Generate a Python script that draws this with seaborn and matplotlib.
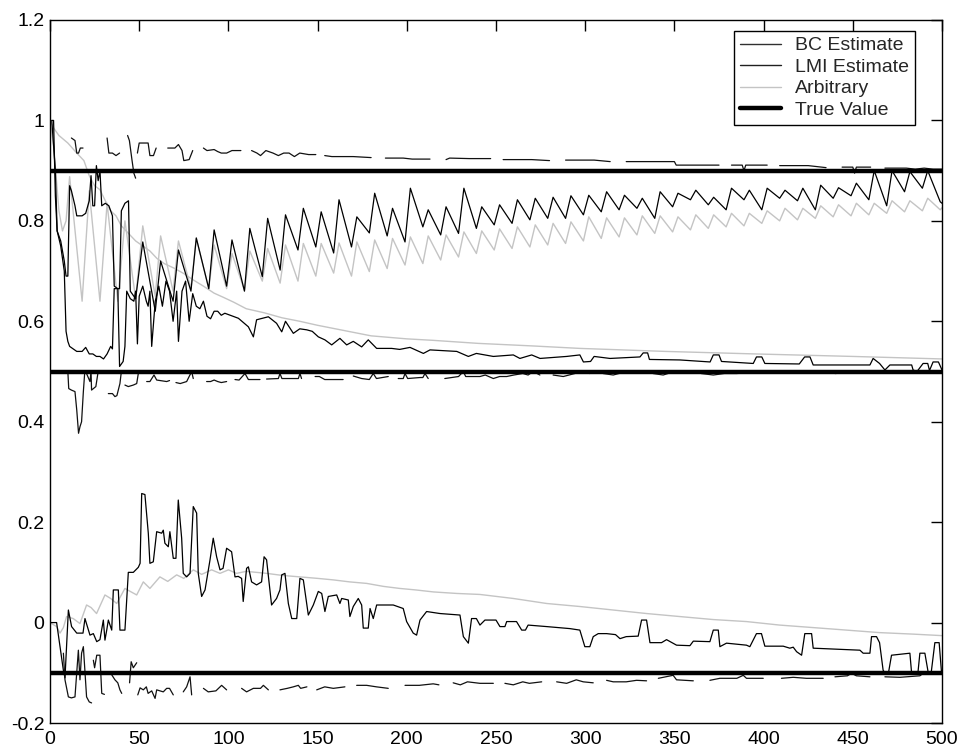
import matplotlib
matplotlib.use("Agg")
import matplotlib.pyplot as plt
import seaborn as sns
import pandas as pd
from matplotlib.lines import Line2D

# ---------------- data ----------------
legend_labels = ["BC Estimate", "LMI Estimate", "Arbitrary", "True Value"]
true_values = [0.9, 0.5, -0.1]
x_ticks = [0, 50, 100, 150, 200, 250, 300, 350, 400, 450, 500]
y_ticks = [-0.2, 0.0, 0.2, 0.4, 0.6, 0.8, 1.0, 1.2]
y_tick_labels = ["-0.2", "0", "0.2", "0.4", "0.6", "0.8", "1", "1.2"]

# oscillating series of the 0.9 group: one peak and one trough per cycle
cycle_start = [50, 60, 70, 80, 90, 100, 110, 120, 130, 140, 150, 160, 170, 180, 190,
               200, 210, 220, 230, 240, 250, 260, 270, 280, 290, 300, 310, 320, 330, 340,
               350, 360, 370, 380, 390, 400, 410, 420, 430, 440, 450, 460, 470, 480, 490]
bc_hi_peaks = [0.758, 0.72, 0.742, 0.766, 0.782, 0.762, 0.785, 0.805, 0.812, 0.825,
               0.818, 0.842, 0.808, 0.855, 0.825, 0.865, 0.822, 0.828, 0.865, 0.828,
               0.832, 0.842, 0.845, 0.847, 0.85, 0.851, 0.858, 0.851, 0.845, 0.858,
               0.855, 0.861, 0.847, 0.865, 0.861, 0.865, 0.861, 0.865, 0.871, 0.866,
               0.875, 0.9, 0.9, 0.898, 0.9]
bc_hi_troughs = [0.62, 0.64, 0.66, 0.665, 0.67, 0.66, 0.689, 0.702, 0.742, 0.748,
                 0.736, 0.748, 0.776, 0.77, 0.758, 0.788, 0.772, 0.775, 0.785, 0.792,
                 0.795, 0.802, 0.805, 0.805, 0.812, 0.818, 0.822, 0.825, 0.805, 0.828,
                 0.842, 0.832, 0.822, 0.842, 0.822, 0.845, 0.84, 0.822, 0.845, 0.85,
                 0.842, 0.83, 0.858, 0.865, 0.838]
arb_hi_peaks = [0.79, 0.77, 0.76, 0.765, 0.752, 0.735, 0.74, 0.745, 0.752, 0.755,
                0.755, 0.756, 0.758, 0.762, 0.765, 0.768, 0.77, 0.772, 0.778, 0.78,
                0.784, 0.788, 0.792, 0.795, 0.798, 0.808, 0.806, 0.806, 0.81, 0.81,
                0.808, 0.812, 0.812, 0.815, 0.815, 0.82, 0.825, 0.825, 0.83, 0.832,
                0.835, 0.835, 0.84, 0.84, 0.845]
arb_hi_troughs = [0.65, 0.66, 0.665, 0.665, 0.665, 0.662, 0.68, 0.676, 0.68, 0.69,
                  0.696, 0.69, 0.699, 0.705, 0.712, 0.715, 0.722, 0.728, 0.735, 0.742,
                  0.745, 0.748, 0.752, 0.755, 0.76, 0.765, 0.768, 0.772, 0.775, 0.778,
                  0.782, 0.785, 0.788, 0.79, 0.795, 0.8, 0.802, 0.805, 0.808, 0.81,
                  0.812, 0.815, 0.818, 0.82, 0.822]
bc_hi_early = [(1, 1.0), (2, 1.0), (3, 0.85), (4, 0.78), (6, 0.76), (8, 0.72), (9, 0.69),
               (10, 0.69), (11, 0.87), (12, 0.86), (14, 0.83), (15, 0.81), (18, 0.81),
               (20, 0.815), (22, 0.84), (23, 0.89), (24, 0.83), (25, 0.83), (26, 0.91),
               (27, 0.88), (28, 0.9), (29, 0.83), (31, 0.835), (33, 0.83), (35, 0.81),
               (36, 0.67), (38, 0.665), (39, 0.665), (40, 0.82), (42, 0.835), (44, 0.84),
               (45, 0.66), (47, 0.65), (48, 0.645)]
bc_hi_end = (500, 0.835)
arb_hi_early = [(0, 1.0), (2, 0.95), (5, 0.82), (7, 0.78), (9, 0.8), (11, 0.888),
                (18, 0.64), (22, 0.86), (28, 0.64), (32, 0.835), (38, 0.64), (42, 0.80),
                (48, 0.645)]
arb_hi_end = (500, 0.826)

# 0.5 group
bc_mid = [(1, 1.0), (2, 0.95), (3, 0.9), (4, 0.78), (6, 0.75), (8, 0.7), (9, 0.58),
          (10, 0.56), (11, 0.55), (13, 0.545), (15, 0.54), (18, 0.54), (20, 0.548),
          (22, 0.535), (24, 0.535), (26, 0.53), (28, 0.53), (30, 0.525), (32, 0.535),
          (34, 0.55), (35, 0.545), (36, 0.665), (38, 0.665), (39, 0.51), (41, 0.52),
          (42, 0.55), (43, 0.66), (45, 0.645), (47, 0.64), (48, 0.66), (49, 0.555),
          (50, 0.65), (52, 0.67), (54, 0.64), (55, 0.63), (56, 0.66), (57, 0.55),
          (59, 0.64), (61, 0.67), (63, 0.63), (65, 0.68), (67, 0.66), (69, 0.6),
          (71, 0.66), (72, 0.56), (74, 0.66), (76, 0.68), (78, 0.6), (80, 0.655),
          (82, 0.63), (84, 0.625), (86, 0.64), (88, 0.61), (90, 0.605), (92, 0.62),
          (94, 0.62), (96, 0.612), (98, 0.616), (105.6, 0.606), (111.2, 0.589),
          (114, 0.569), (115.8, 0.603), (122.4, 0.609), (127, 0.596), (129.9, 0.579),
          (132, 0.6), (136.4, 0.576), (140, 0.585), (143.9, 0.583), (147, 0.58),
          (150.4, 0.569), (154.1, 0.563), (157.9, 0.553), (162.5, 0.566), (166.3, 0.553),
          (170, 0.56), (174.7, 0.549), (178.4, 0.563), (183.1, 0.546), (191.5, 0.546),
          (196, 0.544), (201.8, 0.548), (209.3, 0.536), (213, 0.543), (228, 0.54),
          (234.5, 0.53), (239, 0.536), (248.5, 0.53), (259.7, 0.533), (263.4, 0.526),
          (270, 0.533), (274.7, 0.526), (289.6, 0.53), (297, 0.533), (299, 0.519),
          (303, 0.52), (305, 0.53), (313.9, 0.526), (330.7, 0.529), (332.5, 0.537),
          (335, 0.537), (336, 0.524), (353, 0.523), (370, 0.519), (371.8, 0.533),
          (375, 0.533), (376.4, 0.52), (394.2, 0.516), (396, 0.529), (399, 0.529),
          (400.7, 0.516), (420, 0.515), (423, 0.529), (426, 0.529), (427.8, 0.513),
          (459.6, 0.513), (461.4, 0.526), (465, 0.516), (468, 0.503), (470.8, 0.513),
          (483, 0.513), (483.8, 0.503), (486, 0.5), (489.4, 0.516), (492, 0.516),
          (493, 0.502), (495, 0.519), (498, 0.519), (500, 0.503)]
arb_mid = [(0, 1.0), (2, 0.985), (5, 0.97), (10, 0.955), (15, 0.935), (19, 0.92),
           (22, 0.89), (25, 0.87), (28, 0.862), (31, 0.84), (34, 0.82), (37, 0.81),
           (40, 0.79), (44, 0.775), (48, 0.76), (52, 0.75), (56, 0.74), (60, 0.725),
           (64, 0.715), (70, 0.705), (75, 0.695), (80, 0.683), (86, 0.67), (92, 0.656),
           (97, 0.648), (103, 0.638), (110, 0.625), (120, 0.617), (130, 0.607),
           (140, 0.6), (150, 0.592), (160, 0.585), (170, 0.578), (180, 0.571),
           (190, 0.568), (200, 0.565), (215, 0.562), (240, 0.556), (270, 0.551),
           (297, 0.546), (345, 0.54), (395, 0.535), (450, 0.53), (500, 0.525)]

# -0.1 group
bc_low = [(0, 0.0), (3.7, 0.0), (5.6, -0.048), (7.5, -0.095), (8.4, -0.11), (10.3, 0.025),
          (12.1, -0.008), (15, -0.021), (18.5, -0.021), (19.6, 0.008), (22.4, -0.025),
          (24.3, -0.022), (26.2, -0.038), (28, -0.034), (29.9, 0.005), (30.8, -0.035),
          (31.8, -0.015), (32.7, 0.005), (34.6, -0.015), (35.5, 0.065), (38.3, 0.065),
          (39.2, -0.015), (42, -0.015), (43.9, 0.1), (46.7, 0.1), (49.5, 0.11),
          (50.5, 0.118), (51.4, 0.257), (53.2, 0.255), (55.1, 0.178), (56, 0.118),
          (57.9, 0.121), (59.8, 0.181), (62.6, 0.178), (63.5, 0.184), (64.4, 0.158),
          (66.3, 0.151), (67.2, 0.181), (69.1, 0.128), (70.6, 0.128), (71.9, 0.244),
          (73.8, 0.168), (74.7, 0.098), (76.6, 0.091), (78.5, 0.098), (80.3, 0.231),
          (82.2, 0.218), (83.1, 0.098), (85, 0.052), (86.9, 0.065), (89.7, 0.125),
          (91.5, 0.168), (93.4, 0.131), (95.3, 0.105), (97, 0.108), (99, 0.148),
          (101.8, 0.141), (103.7, 0.091), (105.5, 0.092), (107.4, 0.088), (108.3, 0.042),
          (110.2, 0.108), (111.2, 0.111), (113, 0.081), (115.8, 0.075), (118.6, 0.081),
          (120, 0.131), (121.4, 0.125), (124.2, 0.035), (127, 0.048), (128.9, 0.065),
          (129.9, 0.095), (131.7, 0.098), (133.6, 0.038), (135.5, 0.008), (138.3, 0.008),
          (140.1, 0.088), (142, 0.085), (144.8, 0.015), (147.6, 0.035), (150.4, 0.062),
          (152.3, 0.058), (154.1, 0.022), (156, 0.052), (160.7, 0.055), (162.5, 0.038),
          (163.5, 0.048), (167.2, 0.045), (168.1, 0.012), (170, 0.032), (172.8, 0.048),
          (174.7, 0.035), (175.6, -0.011), (178.4, -0.011), (179.4, 0.028), (181.2, 0.008),
          (183.1, 0.035), (192.4, 0.035), (198, 0.028), (199.9, 0.002), (203.6, -0.021),
          (205.5, -0.025), (207.4, 0.005), (211.1, 0.022), (218.6, 0.018), (229.8, 0.015),
          (231.7, -0.028), (234.5, -0.041), (236.3, 0.008), (239, 0.008), (241, -0.005),
          (243.8, 0.005), (250, 0.005), (252.2, -0.008), (255, -0.008), (256, 0.002),
          (261.5, 0.002), (264.4, -0.015), (266.5, -0.015), (268, -0.005), (278.4, -0.008),
          (291.4, -0.012), (297, -0.015), (299.8, -0.048), (302.6, -0.048), (304.5, -0.028),
          (307.3, -0.022), (312, -0.022), (317, -0.024), (319.5, -0.032), (323, -0.028),
          (329.7, -0.027), (331.6, 0.005), (334.4, 0.005), (336.3, -0.04), (342.8, -0.04),
          (345.6, -0.034), (351.2, -0.045), (358.7, -0.046), (360.6, -0.037),
          (369.9, -0.038), (371.8, -0.015), (374.6, -0.015), (375.5, -0.048),
          (379.2, -0.041), (390.4, -0.045), (392.3, -0.048), (396, -0.022), (398.8, -0.022),
          (400.7, -0.047), (411, -0.047), (414.7, -0.051), (416.6, -0.049), (418.5, -0.058),
          (421.3, -0.065), (423.1, -0.022), (426.9, -0.022), (427.8, -0.051), (454, -0.055),
          (455.8, -0.061), (459.6, -0.061), (460.5, -0.028), (463.3, -0.028), (465, -0.04),
          (467, -0.095), (468, -0.1), (470, -0.1), (471.7, -0.065), (482, -0.061),
          (482.9, -0.098), (486.5, -0.1), (487.6, -0.061), (490.4, -0.061), (492.2, -0.098),
          (494, -0.098), (496, -0.04), (498.4, -0.04), (499.7, -0.098)]
arb_low = [(0, 0.0), (3.7, -0.008), (5.6, -0.021), (7.5, -0.01), (9.3, 0.012), (13, 0.008),
           (16.8, -0.002), (20.5, 0.035), (23, 0.03), (26.1, 0.018), (30.8, 0.055),
           (34, 0.048), (37.4, 0.038), (42, 0.068), (45, 0.062), (48.6, 0.055),
           (52.3, 0.081), (56, 0.068), (61.6, 0.091), (66, 0.082), (71, 0.095), (75, 0.088),
           (80.3, 0.105), (85, 0.096), (90.6, 0.105), (95.3, 0.098), (100, 0.105),
           (104.6, 0.098), (110, 0.102), (121.4, 0.098), (130, 0.094), (140, 0.091),
           (150, 0.088), (158.8, 0.085), (168, 0.081), (177.5, 0.078), (187, 0.072),
           (196, 0.068), (205, 0.065), (215, 0.061), (228, 0.058), (241, 0.056),
           (259.7, 0.048), (278.4, 0.038), (297, 0.032), (315.7, 0.025), (334.4, 0.018),
           (353, 0.012), (371.8, 0.006), (390.4, 0.002), (409, -0.005), (427.8, -0.01),
           (446.5, -0.015), (465, -0.02), (483.8, -0.023), (500, -0.026)]

# LMI estimates: broken lines (one list of points per visible piece)
lmi_hi = [
    [(12, 0.965), (14, 0.96), (15, 0.935), (16, 0.935), (17, 0.945), (18.5, 0.945)],
    [(32, 0.965), (33, 0.935), (35, 0.935), (37, 0.93), (39, 0.935)],
    [(43.5, 0.97), (44.5, 0.96), (46, 0.92), (47, 0.895), (48, 0.885)],
    [(49, 0.935), (50, 0.955), (52, 0.955), (55, 0.955), (56, 0.93), (58, 0.93), (59.5, 0.945)],
    [(66, 0.945), (70, 0.945), (72, 0.952), (74, 0.94), (75, 0.92), (78, 0.922), (80, 0.94)],
    [(86, 0.945), (88, 0.94), (92, 0.942), (94, 0.938), (96, 0.935), (99, 0.935), (102, 0.94), (107, 0.94)],
    [(113, 0.94), (116, 0.935), (118, 0.93), (121, 0.94), (125, 0.935), (128, 0.93), (131, 0.935),
     (134, 0.935), (137, 0.928), (140, 0.935), (145, 0.932), (149, 0.932)],
    [(154, 0.93), (158, 0.928), (170, 0.928), (180, 0.926)],
    [(188, 0.925), (198, 0.925), (203, 0.923), (213, 0.923)],
    [(222, 0.922), (224, 0.925), (235, 0.924), (247, 0.924)],
    [(254, 0.922), (270, 0.922), (280, 0.92)],
    [(289, 0.921), (305, 0.921), (314, 0.918)],
    [(323, 0.918), (350, 0.918), (351, 0.911), (375, 0.911)],
    [(382, 0.911), (388, 0.911), (389, 0.9), (390, 0.911), (402, 0.911)],
    [(409, 0.91), (425, 0.91), (435, 0.906)],
    [(444, 0.907), (450, 0.907), (451, 0.895), (452, 0.907), (460, 0.907)],
    [(468, 0.905), (480, 0.905), (485, 0.903), (490, 0.905), (495, 0.903), (500, 0.903)],
]
lmi_mid = [
    [(10, 0.5), (10.5, 0.466), (12, 0.463), (14, 0.46), (15, 0.423), (16, 0.377), (16.8, 0.39),
     (17.7, 0.4), (18.7, 0.46), (19.5, 0.5)],
    [(20, 0.5), (22.4, 0.48), (23, 0.5), (23.3, 0.463), (25.7, 0.47), (27, 0.5)],
    [(32.7, 0.456), (35, 0.456), (36.4, 0.45), (37.5, 0.452), (39.2, 0.476), (40, 0.5)],
    [(42, 0.473), (43.9, 0.47), (46.7, 0.473), (48.6, 0.476), (49.5, 0.496)],
    [(54.2, 0.48), (56, 0.48), (58.3, 0.493), (59.8, 0.483), (65.4, 0.48), (67, 0.482)],
    [(70.6, 0.478), (73, 0.476), (76.6, 0.48), (79.4, 0.5), (80.3, 0.486)],
    [(87.8, 0.48), (90, 0.48), (92, 0.483), (94, 0.48), (96, 0.478), (99, 0.48)],
    [(103.7, 0.484), (106, 0.483), (109.3, 0.496), (111.2, 0.484), (117.7, 0.484)],
    [(121.4, 0.485), (128, 0.486), (128.9, 0.496), (130, 0.486), (139.2, 0.486), (140.1, 0.496), (141, 0.486)],
    [(148.6, 0.49), (151, 0.49), (154, 0.484), (164.3, 0.484)],
    [(170, 0.491), (174.7, 0.486), (179, 0.484), (181.2, 0.496), (183, 0.486), (189.6, 0.49)],
    [(195.2, 0.486), (198, 0.486), (199, 0.496), (200.5, 0.486), (207.4, 0.488), (209, 0.488),
     (210.2, 0.496), (212, 0.486)],
    [(221.3, 0.486), (229, 0.49), (231.7, 0.5), (233, 0.49), (241, 0.49), (244, 0.493), (248.5, 0.486),
     (252, 0.49), (256, 0.49), (260, 0.493), (265, 0.496), (268, 0.493), (270.9, 0.5), (274.6, 0.493)],
    [(282, 0.493), (287.7, 0.49), (294.2, 0.496), (297, 0.5), (302.6, 0.496)],
    [(310, 0.496), (315.7, 0.493), (321, 0.498), (334.4, 0.498)],
    [(338, 0.496), (343.7, 0.493), (350, 0.5), (360.6, 0.497)],
    [(365, 0.496), (371.8, 0.493), (378, 0.496), (384.8, 0.496), (394, 0.498), (400.7, 0.5)],
    [(411, 0.5), (418, 0.498), (426, 0.5), (433.4, 0.498)],
    [(440, 0.496), (448, 0.498), (457.7, 0.498)],
    [(468, 0.498), (480, 0.498), (491.3, 0.5), (500, 0.5)],
]
lmi_low = [
    [(7.5, -0.061), (8.4, -0.114), (10.3, -0.148), (12, -0.15), (14, -0.148), (15.9, -0.055),
     (16.8, -0.114), (17.7, -0.061), (18.7, -0.048), (20.5, -0.148), (22, -0.158), (23.3, -0.16)],
    [(24.3, -0.075), (25, -0.09), (26.2, -0.065), (28, -0.065), (29, -0.141), (30.5, -0.143)],
    [(34.6, -0.104), (36.4, -0.114), (38, -0.12), (39.2, -0.134), (40.2, -0.141)],
    [(44.6, -0.12), (45.5, -0.078), (46.7, -0.09), (48.6, -0.08)],
    [(49.2, -0.144), (50.5, -0.13), (52.3, -0.134), (54, -0.128), (55, -0.141), (57, -0.136),
     (58.9, -0.151), (59.8, -0.134), (63.5, -0.138), (65.4, -0.131), (67, -0.131), (69.1, -0.144)],
    [(74.7, -0.138), (76.6, -0.128), (78.5, -0.108), (79.4, -0.144)],
    [(86, -0.131), (88.7, -0.138), (93, -0.136), (96.2, -0.125), (99, -0.134)],
    [(107.4, -0.131), (110.2, -0.138), (114, -0.131), (118, -0.131), (119.6, -0.125), (122.4, -0.134)],
    [(128.9, -0.134), (133, -0.131), (136.4, -0.128), (139.2, -0.125), (140.5, -0.131), (144, -0.128)],
    [(149.5, -0.134), (154, -0.128), (158.8, -0.131), (165.3, -0.128)],
    [(171.9, -0.125), (177.5, -0.125), (183, -0.128), (189.6, -0.131)],
    [(199, -0.125), (207, -0.125), (214.8, -0.122), (218, -0.124)],
    [(226, -0.12), (230, -0.124), (234, -0.118), (241, -0.121), (248.5, -0.121)],
    [(255, -0.121), (259.7, -0.124), (265, -0.118), (268.7, -0.121), (275.6, -0.118)],
    [(284, -0.118), (289.6, -0.121), (295, -0.114), (298.9, -0.118), (304.5, -0.12)],
    [(312, -0.115), (315.7, -0.118), (323, -0.118), (328.8, -0.115), (334.4, -0.116)],
    [(341, -0.111), (349.3, -0.105), (351.2, -0.114), (360.6, -0.116)],
    [(369.9, -0.115), (375.5, -0.111), (385, -0.111), (388.6, -0.105), (390.4, -0.111), (399.8, -0.111)],
    [(410, -0.111), (416.6, -0.109), (424, -0.111), (433.4, -0.111)],
    [(440, -0.108), (447, -0.106), (449.3, -0.101), (452, -0.106), (459.6, -0.108)],
    [(468, -0.108), (476.4, -0.109), (487.6, -0.106), (489.5, -0.101), (495, -0.101), (499.7, -0.102)],
]

# ---------------- assemble long table ----------------
rows = []

def add(kind, seg, pts):
    for x, y in pts:
        rows.append({"kind": kind, "seg": seg, "x": x, "y": y})

def cycles(early, peaks, troughs, end):
    pts = list(early)
    for s, p, t in zip(cycle_start, peaks, troughs):
        pts.append((s + 2, p))
        pts.append((s + 9, t))
    pts.append(end)
    return pts

add("arb", "arb_hi", cycles(arb_hi_early, arb_hi_peaks, arb_hi_troughs, arb_hi_end))
add("arb", "arb_mid", arb_mid)
add("arb", "arb_low", arb_low)
add("bc", "bc_hi", cycles(bc_hi_early, bc_hi_peaks, bc_hi_troughs, bc_hi_end))
add("bc", "bc_mid", bc_mid)
add("bc", "bc_low", bc_low)
for name, group in (("hi", lmi_hi), ("mid", lmi_mid), ("low", lmi_low)):
    for i, seg in enumerate(group):
        add("lmi", f"lmi_{name}_{i}", seg)
for i, tv in enumerate(true_values):
    add("true", f"true_{i}", [(0, tv), (500, tv)])

df = pd.DataFrame(rows)

# ---------------- drawing ----------------
sns.set_style("white")
plt.rcParams["font.family"] = ["Liberation Sans", "DejaVu Sans"]

fig = plt.figure(figsize=(9.61, 7.51), dpi=100)
ax = fig.add_axes([50 / 961, 28 / 751, 892 / 961, 703 / 751])

styles = {
    "arb": dict(color="#c4c4c4", linewidth=1.0),
    "bc": dict(color="#000000", linewidth=0.9),
    "lmi": dict(color="#111111", linewidth=0.9),
    "true": dict(color="#000000", linewidth=3.2),
}
for kind in ["arb", "bc", "lmi", "true"]:
    sub = df[df["kind"] == kind]
    sns.lineplot(data=sub, x="x", y="y", units="seg", estimator=None, sort=False,
                 legend=False, ax=ax, **styles[kind])

ax.set_xlim(0, 500)
ax.set_ylim(-0.2, 1.2)
ax.set_xticks(x_ticks)
ax.set_xticklabels([str(v) for v in x_ticks])
ax.set_yticks(y_ticks)
ax.set_yticklabels(y_tick_labels)
ax.set_xlabel("")
ax.set_ylabel("")
ax.tick_params(direction="in", top=True, right=True, length=8, width=1,
               labelsize=14, colors="black")
ax.tick_params(axis="x", pad=6)
ax.tick_params(axis="y", pad=4)
for sp in ax.spines.values():
    sp.set_color("black")
    sp.set_linewidth(1.0)

handles = [
    Line2D([], [], color="#303030", linewidth=1.0),
    Line2D([], [], color="#202020", linewidth=1.0),
    Line2D([], [], color="#c4c4c4", linewidth=1.0),
    Line2D([], [], color="#000000", linewidth=3.2),
]
leg = ax.legend(handles, legend_labels, loc="upper right",
                bbox_to_anchor=((915 - 50) / 892, (723 - 31) / 703),
                borderaxespad=0, fontsize=14, frameon=True, fancybox=False,
                framealpha=1, edgecolor="black", handlelength=2.1,
                handletextpad=0.75, labelspacing=0.2, borderpad=0.3)
leg.get_frame().set_linewidth(1.0)

fig.savefig("out.png", dpi=100)
